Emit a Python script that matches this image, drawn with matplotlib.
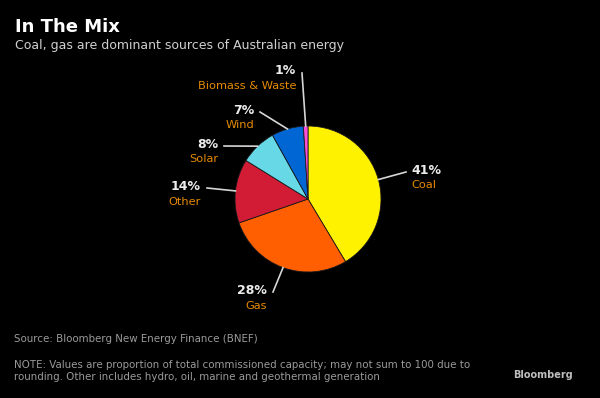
import numpy as np
import matplotlib
matplotlib.use('Agg')
import matplotlib.pyplot as plt

# data
sources = ['Coal', 'Gas', 'Other', 'Solar', 'Wind', 'Biomass & Waste']
shares = [41, 28, 14, 8, 7, 1]
colors = ['#fff200', '#ff5f00', '#d21c36', '#66d8e6', '#0066d4', '#ff4fd8']

title = 'In The Mix'
subtitle = 'Coal, gas are dominant sources of Australian energy'
source_note = 'Source: Bloomberg New Energy Finance (BNEF)'
footnote = ('NOTE: Values are proportion of total commissioned capacity; may not sum to 100 due to\n'
            'rounding. Other includes hydro, oil, marine and geothermal generation')

W, H = 600, 398
fig = plt.figure(figsize=(W / 100, H / 100), dpi=100, facecolor='black')
ax = fig.add_axes([0, 0, 1, 1])
ax.set_facecolor('black')

cx, cy, r = 308, H - 199, 73
ax.pie(shares, colors=colors, startangle=90, counterclock=False,
       center=(cx, cy), radius=r,
       wedgeprops=dict(edgecolor='#1a1a1a', linewidth=0.6))
ax.set_xlim(0, W)
ax.set_ylim(0, H)
ax.set_aspect('equal')
ax.axis('off')

# label layout in pixels from top-left: line end, text x, alignment, pct y, name y
layout = [
    ((406, 172), 411, 'left', 170, 185),
    ((273, 292), 267, 'right', 291, 306),
    ((207, 188), 201, 'right', 187, 202),
    ((224, 146), 218, 'right', 145, 159),
    ((260, 112), 254, 'right', 111, 125),
    ((302, 73), 296, 'right', 71, 86),
]

total = float(sum(shares))
cum = np.cumsum([0] + shares[:-1])
for name, v, c0, (end, tx, ha, py, ny) in zip(sources, shares, cum, layout):
    ang = np.deg2rad(90 - 360 * (c0 + v / 2) / total)
    x0, y0 = cx + r * np.cos(ang), cy + r * np.sin(ang)
    ax.plot([x0, end[0]], [y0, H - end[1]], color='#d6d6d6', lw=1.2)
    ax.text(tx, H - py, f'{v}%', color='#ececec', fontsize=9,
            fontweight='bold', ha=ha, va='center')
    ax.text(tx, H - ny, name, color='#e58a00', fontsize=8.2,
            ha=ha, va='center')

fig.text(15 / W, 1 - 27 / H, title, color='white', fontsize=13,
         fontweight='bold', va='center')
fig.text(15 / W, 1 - 45 / H, subtitle, color='#d0d0d0', fontsize=9,
         va='center')
fig.text(14 / W, 1 - 339 / H, source_note, color='#9a9a9a', fontsize=7.4,
         va='center')
fig.text(14 / W, 1 - 371 / H, footnote, color='#9a9a9a', fontsize=7.4,
         va='center', linespacing=1.35)
fig.text(513 / W, 1 - 375 / H, 'Bloomberg', color='#bdbdbd', fontsize=7,
         fontweight='bold', va='center')

fig.savefig('out.png', dpi=100, facecolor='black')
